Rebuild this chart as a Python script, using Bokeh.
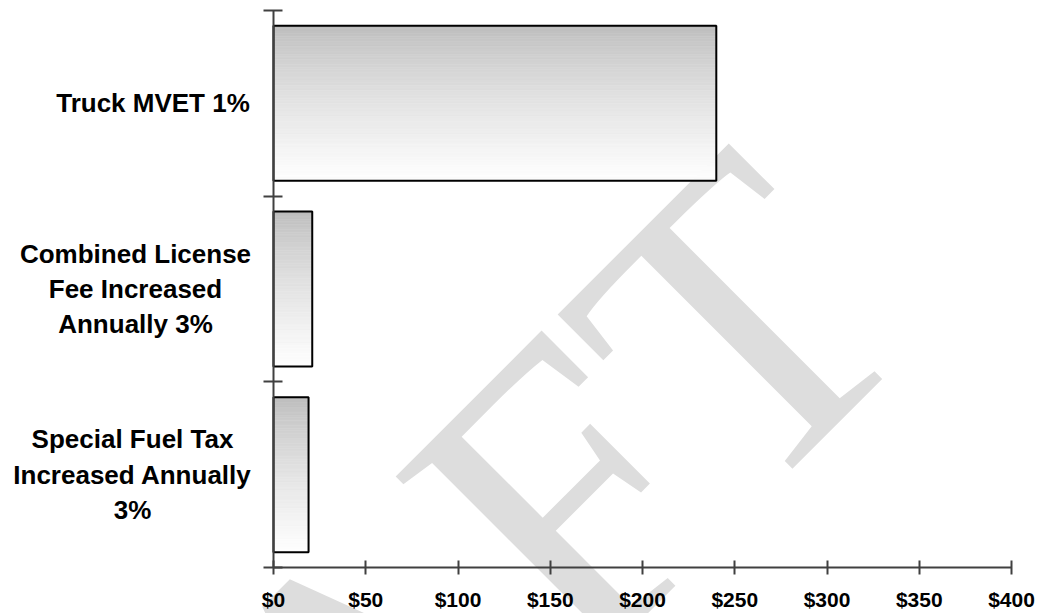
import math
from bokeh.plotting import figure
from bokeh.models import Range1d, FixedTicker, Label, LinearAxis
from bokeh.core.properties import value
from bokeh.embed import file_html
from bokeh.resources import INLINE

# ---- data ----
categories = [
    "Special Fuel Tax\nIncreased Annually\n3%",
    "Combined License\nFee Increased\nAnnually 3%",
    "Truck MVET 1%",
]
values = [19, 21, 240]
x_ticks = [0, 50, 100, 150, 200, 250, 300, 350, 400]
x_tick_labels = ["$0", "$50", "$100", "$150", "$200", "$250", "$300", "$350", "$400"]

# ---- layout constants (pixels) ----
W, H = 1042, 613
FL, FR, FT, FB = 273, 1011, 10, 567     # where the value axis / category axis sit
BAR_H = 0.835
N_SLICES = 60
label_centers_px = [132, 135, 152.5]

XMAX = 400.0
NCAT = len(categories)
ppx = (FR - FL) / XMAX
ppy = (FB - FT) / NCAT

def sx(xpx):
    return (xpx - FL) / ppx

def sy(ypx):
    return (FB - ypx) / ppy

p = figure(width=W, height=H,
           x_range=Range1d(sx(0), sx(W)), y_range=Range1d(sy(H), sy(0)),
           output_backend="svg", toolbar_location=None,
           x_axis_location=None, y_axis_location=None,
           min_border_left=0, min_border_right=0, min_border_top=0, min_border_bottom=0)
p.outline_line_color = None
p.xgrid.visible = False
p.ygrid.visible = False
p.background_fill_color = "white"
p.border_fill_color = "white"

# ---- watermark ----
wm = Label(x=sx(-146), y=sy(1206), text="DRAFT", angle=math.pi / 4,
           text_font="Liberation Serif", text_font_size="420px", text_color="#dddddd",
           text_align="left", text_baseline="alphabetic", level="underlay")
p.add_layout(wm)

# ---- gradient bars ----
centers = [i + 0.5 for i in range(NCAT)]
ql, qr, qt, qb, qc = [], [], [], [], []
for c, v in zip(centers, values):
    top = c + BAR_H / 2
    for j in range(N_SLICES):
        t = j / (N_SLICES - 1)
        g = int(round(188 + (254 - 188) * (t ** 0.75)))
        ql.append(0)
        qr.append(v)
        qt.append(top - j * BAR_H / N_SLICES)
        qb.append(top - (j + 1) * BAR_H / N_SLICES)
        qc.append("#%02x%02x%02x" % (g, g, g))
p.quad(left=ql, right=qr, top=qt, bottom=qb, fill_color=qc, line_color=qc, line_width=0.6)
p.hbar(y=centers, left=0, right=values, height=BAR_H, fill_color=None,
       line_color="black", line_width=2)

# ---- axes (fixed inside the frame) ----
xa = LinearAxis(fixed_location=0)
xa.ticker = FixedTicker(ticks=x_ticks)
xa.major_label_overrides = {t: l for t, l in zip(x_ticks, x_tick_labels)}
xa.bounds = (0, XMAX)
xa.axis_line_color = "#404040"
xa.axis_line_width = 2
xa.major_tick_line_color = "#404040"
xa.major_tick_line_width = 2
xa.major_tick_in = 7
xa.major_tick_out = 7
xa.minor_tick_line_color = None
xa.major_label_text_font = "Liberation Sans"
xa.major_label_text_font_style = "bold"
xa.major_label_text_font_size = "21px"
xa.major_label_text_color = "black"
xa.major_label_standoff = 13
p.add_layout(xa, "below")

ya = LinearAxis(fixed_location=0)
ya.ticker = FixedTicker(ticks=list(range(NCAT + 1)))
ya.major_label_overrides = {i: "" for i in range(NCAT + 1)}
ya.bounds = (0, NCAT)
ya.axis_line_color = "#404040"
ya.axis_line_width = 2
ya.major_tick_line_color = "#404040"
ya.major_tick_line_width = 2
ya.major_tick_in = 9
ya.major_tick_out = 10
ya.minor_tick_line_color = None
p.add_layout(ya, "left")

# ---- category labels ----
p.text(x=[sx(cx) for cx in label_centers_px], y=centers, text=categories,
       text_align="center", text_baseline="middle",
       text_font=value("Liberation Sans"), text_font_style="bold",
       text_font_size="26px", text_line_height=1.18, text_color="black")

open("out.html", "w").write(file_html(p, INLINE))
